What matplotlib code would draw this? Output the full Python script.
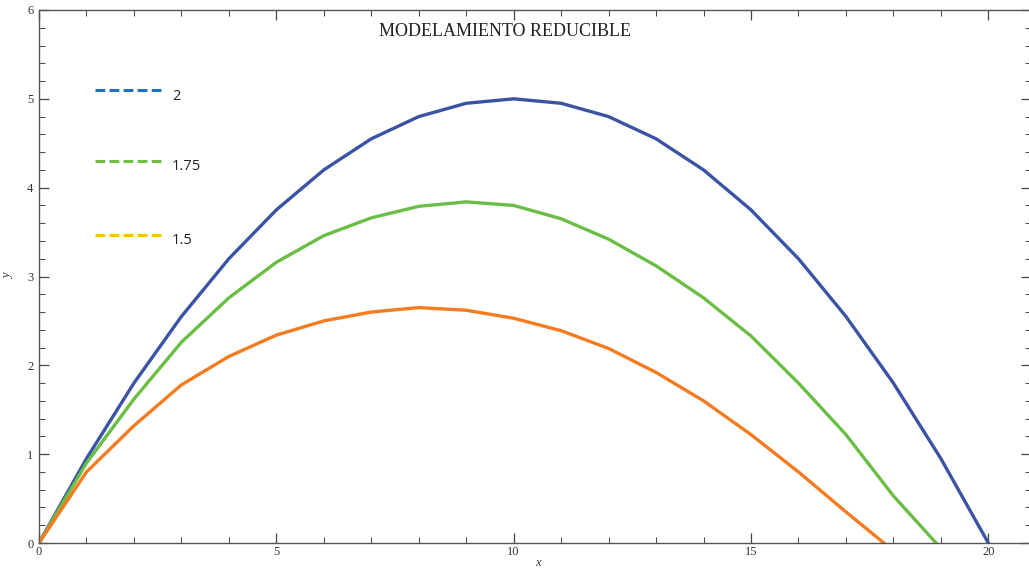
import matplotlib
matplotlib.use("Agg")
import matplotlib.pyplot as plt
from matplotlib.ticker import MultipleLocator

# Data
x_blue = [0, 1, 2, 3, 4, 5, 6, 7, 8, 9, 10, 11, 12, 13, 14, 15, 16, 17, 18, 19, 20]
y_blue = [0, 0.95, 1.80, 2.55, 3.20, 3.75, 4.20, 4.55, 4.80, 4.95, 5.00,
          4.95, 4.80, 4.55, 4.20, 3.75, 3.20, 2.55, 1.80, 0.95, 0]
x_green = [0, 1, 2, 3, 4, 5, 6, 7, 8, 9, 10, 11, 12, 13, 14, 15, 16, 17, 18, 18.9]
y_green = [0, 0.90, 1.62, 2.26, 2.76, 3.16, 3.46, 3.66, 3.79, 3.84, 3.80,
           3.65, 3.42, 3.12, 2.76, 2.33, 1.80, 1.22, 0.53, 0]
x_orange = [0, 1, 2, 3, 4, 5, 6, 7, 8, 9, 10, 11, 12, 13, 14, 15, 16, 17, 17.8]
y_orange = [0, 0.80, 1.32, 1.78, 2.10, 2.34, 2.50, 2.60, 2.65, 2.62, 2.53,
            2.39, 2.19, 1.92, 1.60, 1.22, 0.80, 0.35, 0]
legend_labels = ["2", "1.75", "1.5"]
title_text = "MODELAMIENTO REDUCIBLE"

c_blue, c_green, c_orange = "#3a53a4", "#6abd45", "#f47b20"
leg_colors = ["#1f70c1", "#70bf44", "#ffc000"]

fig = plt.figure(figsize=(10.29, 5.71), dpi=100)
ax = fig.add_axes([39 / 1029, 1 - 543 / 571, 1 - 39 / 1029 + 0.002, (543 - 10) / 571])

ax.plot(x_blue, y_blue, color=c_blue, lw=2.4)
ax.plot(x_green, y_green, color=c_green, lw=2.4)
ax.plot(x_orange, y_orange, color=c_orange, lw=2.4)

ax.set_xlim(0, 20.9)
ax.set_ylim(0, 6)
ax.xaxis.set_major_locator(MultipleLocator(5))
ax.xaxis.set_minor_locator(MultipleLocator(1))
ax.yaxis.set_major_locator(MultipleLocator(1))
ax.yaxis.set_minor_locator(MultipleLocator(0.2))
ax.tick_params(which="both", direction="in", top=True, right=True,
               color="#444444", labelsize=9, labelcolor="#333333")
ax.tick_params(which="major", length=7, width=0.9)
ax.tick_params(which="minor", length=4, width=0.7)
for lab in ax.get_xticklabels() + ax.get_yticklabels():
    lab.set_fontfamily("Liberation Serif")
ax.tick_params(axis="x", pad=2)
ax.tick_params(axis="y", pad=4)
for s in ax.spines.values():
    s.set_color("#555555")
    s.set_linewidth(1.0)

ax.set_xlabel("x", fontfamily="Liberation Serif", fontstyle="italic", fontsize=9,
              labelpad=0, color="#333333")
ax.xaxis.set_label_coords((537 - 39) / 990, -0.027)
ax.set_ylabel("y", fontfamily="Liberation Serif", fontstyle="italic", fontsize=9,
              labelpad=0, color="#333333")
ax.yaxis.set_label_coords(-0.025, 0.5)

fig.text(505 / 1029, 1 - 31 / 571, title_text, ha="center", va="center",
         fontfamily="Liberation Serif", fontsize=13, color="#222222")

leg_y = [90, 161, 235]
for lab, col, py in zip(legend_labels, leg_colors, leg_y):
    fy = 1 - py / 571
    fig.add_artist(plt.Line2D([95 / 1029, 165 / 1029], [fy, fy], color=col, lw=2.2,
                              ls=(0, (3.2, 1.4)), transform=fig.transFigure))
    fig.text(172 / 1029, 1 - (py + 6) / 571, lab, ha="left", va="center",
             fontfamily="Open Sans", fontsize=10.5, color="#222222")

fig.savefig("out.png", dpi=100)
